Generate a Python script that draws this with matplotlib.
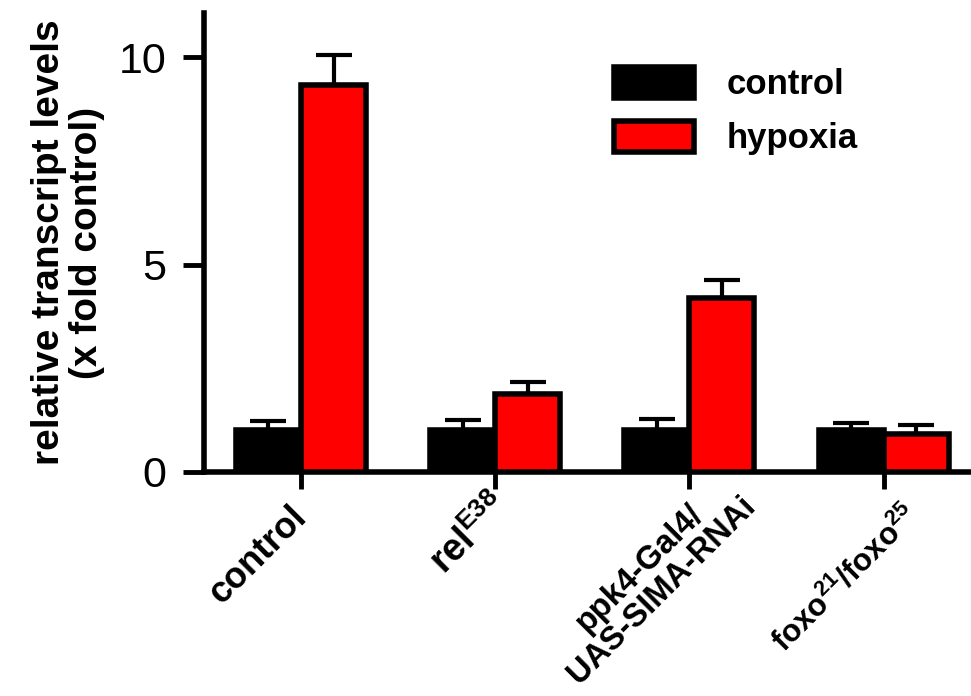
import numpy as np
import matplotlib
matplotlib.use("Agg")
import matplotlib.pyplot as plt
import matplotlib.transforms as mtransforms

plt.rcParams['font.family'] = ['Liberation Sans', 'DejaVu Sans']

genotypes = ['control', r'rel$^{\mathregular{E38}}$', 'ppk4-Gal4/\nUAS-SIMA-RNAi',
             r'foxo$^{\mathregular{21}}$/foxo$^{\mathregular{25}}$']
control_vals = [1.0, 1.0, 1.0, 1.0]
control_err = [0.22, 0.26, 0.27, 0.18]
hypoxia_vals = [9.33, 1.88, 4.19, 0.92]
hypoxia_err = [0.72, 0.29, 0.44, 0.21]

fig = plt.figure(figsize=(9.71, 6.96), dpi=100)
ax = fig.add_axes([0.210, 0.322, 0.79, 0.659])

x = np.arange(len(genotypes))
w = 0.335
lw = 4

b1 = ax.bar(x - w / 2, control_vals, w, color='black', edgecolor='black',
            linewidth=lw, label='control', zorder=3)
b2 = ax.bar(x + w / 2, hypoxia_vals, w, color='#ff0000', edgecolor='black',
            linewidth=lw, label='hypoxia', zorder=3)

# error bars only go up
zeros = np.zeros(len(x))
ax.errorbar(x - w / 2, control_vals, yerr=[zeros, control_err], fmt='none',
            ecolor='black', elinewidth=3, capsize=13, capthick=3, zorder=2)
ax.errorbar(x + w / 2, hypoxia_vals, yerr=[zeros, hypoxia_err], fmt='none',
            ecolor='black', elinewidth=3, capsize=13, capthick=3, zorder=2)

ax.set_xlim(-0.5, 3.45)
ax.set_ylim(0, 11.06)
ax.set_yticks([0, 5, 10])
ax.tick_params(axis='y', labelsize=31, width=3.5, length=15, pad=12)
ax.tick_params(axis='x', width=3.5, length=12)

for s in ['top', 'right']:
    ax.spines[s].set_visible(False)
for s in ['left', 'bottom']:
    ax.spines[s].set_linewidth(4)

ax.set_ylabel('relative transcript levels\n(x fold control)', fontsize=28,
              fontweight='bold', labelpad=10, linespacing=1.05)

ax.set_xticks(x)
ax.set_xticklabels(genotypes, rotation=45, ha='right', va='center',
                   rotation_mode='anchor', fontweight='bold', multialignment='center')
sizes = [26, 27, 23.5, 22.5]
offsets = [(0, -13), (6, -6), (36, 2), (22, -13)]
for lab, fs, (dx, dy) in zip(ax.get_xticklabels(), sizes, offsets):
    lab.set_fontsize(fs)
    lab.set_linespacing(1.0)
    lab.set_transform(lab.get_transform() +
                      mtransforms.ScaledTranslation(dx / 72, dy / 72, fig.dpi_scale_trans))

ax.legend(handles=[b1, b2], loc='upper left', bbox_to_anchor=(614 / 971, 1 - 67 / 696),
          bbox_transform=fig.transFigure, frameon=False, fontsize=25,
          prop={'weight': 'bold', 'size': 25}, borderpad=0, borderaxespad=0,
          handlelength=2.3, handleheight=1.0, handletextpad=0.95, labelspacing=0.55)

fig.savefig('out.png', dpi=100)
